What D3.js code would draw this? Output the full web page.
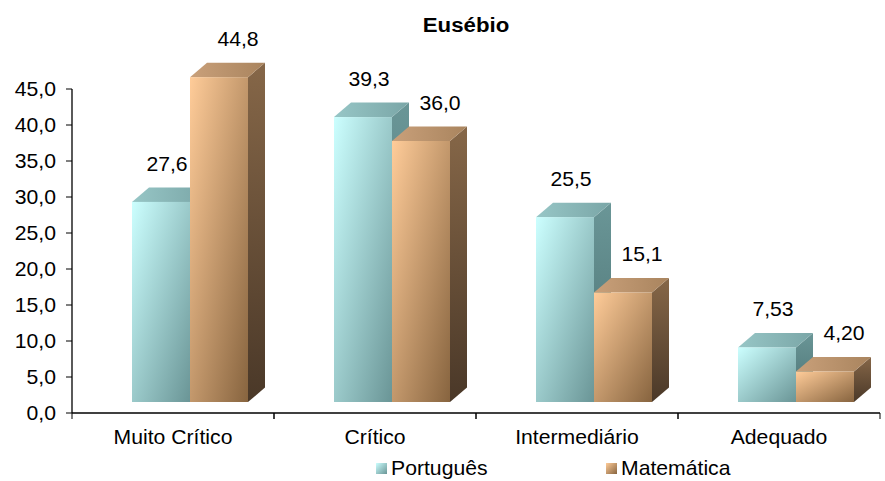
<!DOCTYPE html>
<html lang="pt">
<head>
    <meta charset="UTF-8">
    <title>Eusébio</title>
    <script src="https://d3js.org/d3.v7.min.js"></script>
    <style>
        body { margin: 0; background: white; }
        text {
            font-family: 'Liberation Sans', Arial, sans-serif;
            font-size: 20px;
            fill: black;
        }
    </style>
</head>
<body>
<script>
    const width = 885;
    const height = 481;

    const categories = ["Muito Crítico", "Crítico", "Intermediário", "Adequado"];
    const series = ["Português", "Matemática"];
    const portugues = [27.6, 39.3, 25.5, 7.53];
    const matematica = [44.8, 36.0, 15.1, 4.20];
    const yTicks = [0, 5, 10, 15, 20, 25, 30, 35, 40, 45];

    // the original text looks a bit stretched sideways
    const stretch = 1.06;
    const depth = {dx: 17, dy: -14.5};

    const pt = d3.formatLocale({decimal: ",", thousands: ".", grouping: [3], currency: ["R$", ""]});
    const fmtTick = pt.format(".1f");
    const fmtVal = pt.format(".3r");

    const svg = d3.select("body").append("svg").attr("width", width).attr("height", height);
    const defs = svg.append("defs");

    const palette = {
        "Português": {front: ["#ccffff", "#6a9596"], top: ["#97c6c6", "#7aa6a7"], side: ["#6a9697", "#4b7172"], shift: 6},
        "Matemática": {front: ["#ffcc99", "#87643f"], top: ["#c9a07a", "#a9845e"], side: ["#866748", "#4a3828"], shift: 19}
    };

    function grad(id, c, x2, y2) {
        const g = defs.append("linearGradient").attr("id", id)
            .attr("x1", 0).attr("y1", 0).attr("x2", x2).attr("y2", y2);
        g.append("stop").attr("offset", 0).attr("stop-color", c[0]);
        g.append("stop").attr("offset", 1).attr("stop-color", c[1]);
    }
    series.forEach((s, i) => {
        grad("front" + i, palette[s].front, 1, 1);
        grad("top" + i, palette[s].top, 1, 0);
        grad("side" + i, palette[s].side, 0, 1);
    });

    const yAxis = d3.scaleLinear().domain([0, 45]).range([413, 89]);
    const yBar = d3.scaleLinear().domain([0, 45]).range([402, 75.75]);
    const x0 = d3.scaleBand().domain(categories).range([72, 880]);
    const x1 = d3.scaleBand().domain(series).range([60, 176]);

    function stretchedText(sel, x, y) {
        return sel.append("g").attr("transform", `translate(${x},${y}) scale(${stretch},1)`).append("text");
    }

    // title
    stretchedText(svg, 466, 32).attr("text-anchor", "middle")
        .style("font-weight", "bold").style("font-size", "21px").text("Eusébio");

    // y axis
    const ax = svg.append("g");
    ax.append("line").attr("x1", 72).attr("x2", 72).attr("y1", yAxis(45)).attr("y2", yAxis(0))
        .attr("stroke", "black").attr("stroke-width", 1.3);
    yTicks.forEach(t => {
        ax.append("line").attr("x1", 66).attr("x2", 72).attr("y1", yAxis(t)).attr("y2", yAxis(t))
            .attr("stroke", "black");
        stretchedText(ax, 56, yAxis(t)).attr("text-anchor", "end").attr("dy", "0.36em").text(fmtTick(t));
    });

    // x axis
    ax.append("line").attr("x1", 72).attr("x2", 880).attr("y1", yAxis(0)).attr("y2", yAxis(0))
        .attr("stroke", "black").attr("stroke-width", 1.3);
    categories.forEach(c => {
        [x0(c), x0(c) + x0.bandwidth()].forEach(x => {
            ax.append("line").attr("x1", x).attr("x2", x).attr("y1", yAxis(0)).attr("y2", yAxis(0) + 6)
                .attr("stroke", "black");
        });
        stretchedText(ax, x0(c) + x0.bandwidth() / 2, 444).attr("text-anchor", "middle").text(c);
    });

    // bars
    const data = [];
    categories.forEach((c, ci) => {
        data.push({cat: c, s: 0, name: series[0], value: portugues[ci]});
        data.push({cat: c, s: 1, name: series[1], value: matematica[ci]});
    });

    const bars = svg.append("g");
    data.forEach(d => {
        const xl = x0(d.cat) + x1(d.name);
        const xr = xl + x1.bandwidth();
        const yt = yBar(d.value);
        const yb = yBar(0);
        const g = bars.append("g");
        const pts = a => a.map(p => p.join(",")).join(" ");
        g.append("polygon").attr("fill", `url(#side${d.s})`)
            .attr("points", pts([[xr, yt], [xr + depth.dx, yt + depth.dy], [xr + depth.dx, yb + depth.dy], [xr, yb]]));
        g.append("polygon").attr("fill", `url(#top${d.s})`)
            .attr("points", pts([[xl, yt], [xl + depth.dx, yt + depth.dy], [xr + depth.dx, yt + depth.dy], [xr, yt]]));
        g.append("rect").attr("fill", `url(#front${d.s})`)
            .attr("x", xl).attr("y", yt).attr("width", xr - xl).attr("height", yb - yt);
    });

    // value labels
    data.forEach(d => {
        const cx = x0(d.cat) + x1(d.name) + x1.bandwidth() / 2 + palette[d.name].shift;
        const cy = yBar(d.value) + depth.dy - 24;
        stretchedText(svg, cx, cy).attr("text-anchor", "middle").attr("dy", "0.36em").text(fmtVal(d.value));
    });

    // legend
    const legendX = [376, 606];
    series.forEach((s, i) => {
        const lg = svg.append("g");
        lg.append("rect").attr("x", legendX[i]).attr("y", 463).attr("width", 11).attr("height", 11)
            .attr("fill", `url(#front${i})`);
        stretchedText(lg, legendX[i] + 15, 468).attr("dy", "0.36em").text(s);
    });
</script>
</body>
</html>
